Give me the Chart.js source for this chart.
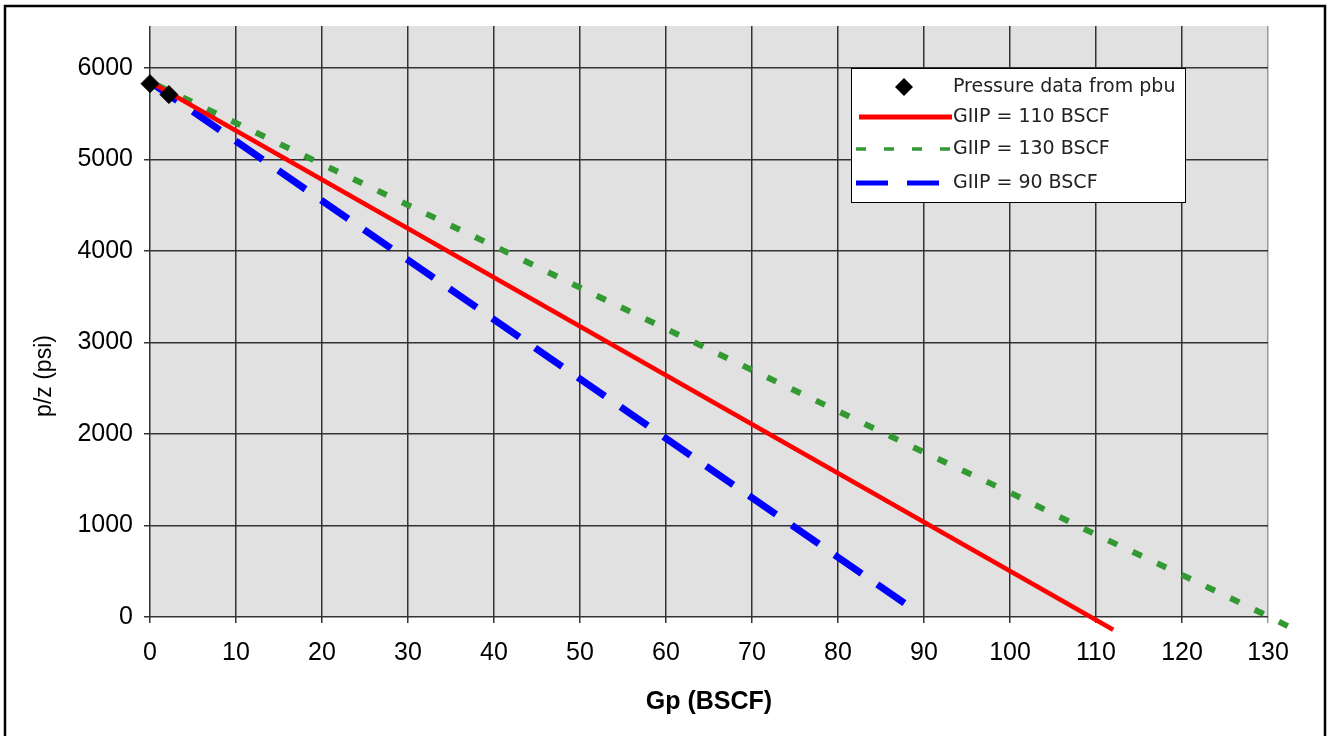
<!DOCTYPE html>
<html>
<head>
<meta charset="utf-8">
<title>p/z vs Gp</title>
<script src="https://cdn.jsdelivr.net/npm/chart.js@4.4.1/dist/chart.umd.min.js"></script>
<style>
  html, body { margin: 0; padding: 0; background: #fff; }
  canvas { display: block; }
</style>
</head>
<body>
<canvas id="grafica" width="1332" height="736"></canvas>
<script>
// Datos de presión (pbu)
const gpPbu = [0, 2.2];
const pzPbu = [5830, 5710];

// Rectas p/z para cada GIIP
const gp110 = [0, 112.0];
const pz110 = [5850, -140];
const gp130 = [0, 20, 41, 50, 60, 70, 80, 90, 100, 110, 120, 130, 132.3];
const pz130 = [5850, 4950, 4010, 3600, 3150, 2700, 2250, 1800, 1360, 900, 460, 10, -100];
const gp90 = [0, 88.6];
const pz90 = [5850, 95];

const etiquetas = ['Pressure data from pbu', 'GIIP = 110 BSCF', 'GIIP = 130 BSCF', 'GIIP = 90 BSCF'];
const ticksY = [0, 1000, 2000, 3000, 4000, 5000, 6000];

const fuenteEjes = 'Liberation Sans, Arial, sans-serif';

function puntos(xs, ys) {
    return xs.map((x, i) => ({ x: x, y: ys[i] }));
}

// Fondo gris del área de trazado
const fondo = {
    id: 'fondo',
    beforeDraw(chart) {
        const { ctx, chartArea: a } = chart;
        ctx.save();
        ctx.fillStyle = '#e1e1e1';
        ctx.fillRect(a.left, a.top, a.right - a.left, a.bottom - a.top);
        ctx.restore();
    }
};

// Marco exterior, títulos de ejes y leyenda
const adornos = {
    id: 'adornos',
    afterDraw(chart) {
        const ctx = chart.ctx;
        ctx.save();

        ctx.strokeStyle = '#000';
        ctx.lineWidth = 2.5;
        ctx.strokeRect(5, 6, 1320, 745);

        ctx.fillStyle = '#000';
        ctx.textAlign = 'center';
        ctx.textBaseline = 'middle';
        ctx.font = 'bold 25px ' + fuenteEjes;
        ctx.fillText('Gp (BSCF)', 709, 702);

        ctx.save();
        ctx.translate(45, 376);
        ctx.rotate(-Math.PI / 2);
        ctx.font = '23px ' + fuenteEjes;
        ctx.fillText('p/z (psi)', 0, 0);
        ctx.restore();

        // Leyenda
        ctx.fillStyle = '#fff';
        ctx.fillRect(851, 68, 334, 134);
        ctx.strokeStyle = '#000';
        ctx.lineWidth = 1;
        ctx.strokeRect(851.5, 68.5, 334, 134);

        const filas = [87, 117, 149, 183];

        ctx.fillStyle = '#000';
        ctx.beginPath();
        ctx.moveTo(904, filas[0] - 9);
        ctx.lineTo(913, filas[0]);
        ctx.lineTo(904, filas[0] + 9);
        ctx.lineTo(895, filas[0]);
        ctx.closePath();
        ctx.fill();

        ctx.lineCap = 'butt';
        ctx.strokeStyle = '#ff0000';
        ctx.lineWidth = 5;
        ctx.setLineDash([]);
        ctx.beginPath();
        ctx.moveTo(859, filas[1]);
        ctx.lineTo(952, filas[1]);
        ctx.stroke();

        ctx.strokeStyle = '#339933';
        ctx.lineWidth = 3.5;
        ctx.setLineDash([10, 18]);
        ctx.beginPath();
        ctx.moveTo(856, filas[2]);
        ctx.lineTo(952, filas[2]);
        ctx.stroke();

        ctx.strokeStyle = '#0000ff';
        ctx.lineWidth = 5;
        ctx.setLineDash([32, 19]);
        ctx.beginPath();
        ctx.moveTo(856, filas[3]);
        ctx.lineTo(940, filas[3]);
        ctx.stroke();
        ctx.setLineDash([]);

        ctx.fillStyle = '#222';
        ctx.textAlign = 'left';
        ctx.font = '19px DejaVu Sans, sans-serif';
        etiquetas.forEach((t, i) => ctx.fillText(t, 953, filas[i]));

        ctx.restore();
    }
};

new Chart(document.getElementById('grafica'), {
    type: 'scatter',
    data: {
        datasets: [
            {
                label: etiquetas[0],
                data: puntos(gpPbu, pzPbu),
                pointStyle: 'rectRot',
                pointRadius: 9,
                backgroundColor: '#000',
                borderColor: '#000',
                showLine: false,
                clip: false,
                order: 0
            },
            {
                label: etiquetas[1],
                data: puntos(gp110, pz110),
                showLine: true,
                borderColor: '#ff0000',
                borderWidth: 4.5,
                pointRadius: 0,
                clip: false,
                order: 1
            },
            {
                // se recorre al revés para que el tramo más allá de 130 no se recorte
                label: etiquetas[2],
                data: puntos(gp130, pz130).reverse(),
                showLine: true,
                borderColor: '#339933',
                borderWidth: 6,
                borderDash: [10, 17],
                pointRadius: 0,
                clip: false,
                order: 2
            },
            {
                label: etiquetas[3],
                data: puntos(gp90, pz90),
                showLine: true,
                borderColor: '#0000ff',
                borderWidth: 7,
                borderDash: [33, 19],
                pointRadius: 0,
                clip: false,
                order: 3
            }
        ]
    },
    options: {
        responsive: false,
        animation: false,
        layout: { padding: { left: 0, top: 26, right: 64, bottom: 0 } },
        plugins: {
            legend: { display: false },
            tooltip: { enabled: false }
        },
        scales: {
            x: {
                type: 'linear',
                min: 0,
                max: 130,
                afterFit: s => { s.height = 119; },
                border: { display: false },
                grid: {
                    color: c => (c.tick && c.tick.value === 130) ? '#9a9a9a' : '#333',
                    lineWidth: 1.5,
                    tickLength: 6
                },
                ticks: {
                    stepSize: 10,
                    padding: 15,
                    color: '#000',
                    font: { family: fuenteEjes, size: 25 },
                    callback: v => String(v)
                }
            },
            y: {
                type: 'linear',
                min: 0,
                max: 6460,
                afterFit: s => { s.width = 150; },
                afterBuildTicks: s => { s.ticks = ticksY.map(v => ({ value: v })); },
                border: { display: false },
                grid: {
                    color: '#333',
                    lineWidth: 1.5,
                    tickLength: 6
                },
                ticks: {
                    padding: 11,
                    color: '#000',
                    font: { family: fuenteEjes, size: 25 },
                    callback: v => String(v)
                }
            }
        }
    },
    plugins: [fondo, adornos]
});
</script>
</body>
</html>
